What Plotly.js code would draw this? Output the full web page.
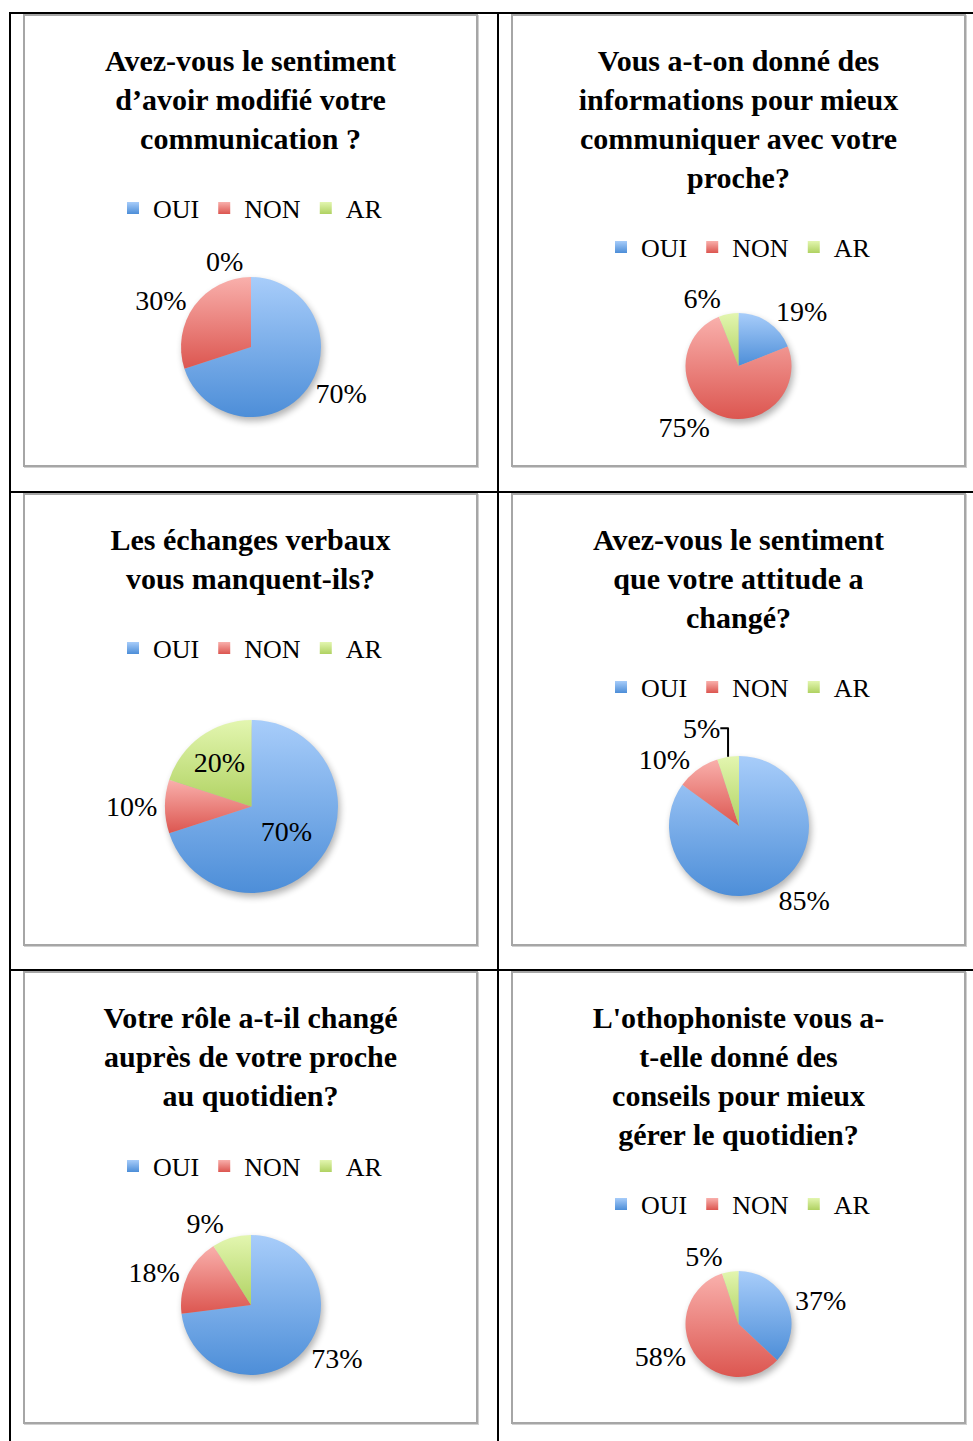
<!DOCTYPE html>
<html>
<head>
<meta charset="utf-8">
<script src="https://cdn.plot.ly/plotly-3.0.1.min.js"></script>
<style>
  html, body { margin:0; padding:0; background:#fff; }
  body { width:973px; height:1441px; position:relative; overflow:hidden; }
  .line { position:absolute; background:#000; }
  .box { position:absolute; width:455px; height:453px; }
  .frame { position:absolute; box-sizing:border-box; width:455px; height:453px;
           border:2px solid #a6a6a6; pointer-events:none; box-shadow:1px 1px 0 #d0d0d0; }
</style>
</head>
<body>
<div class="line" style="left:9px;top:12px;width:964px;height:2px"></div>
<div class="line" style="left:9px;top:12px;width:2px;height:1429px"></div>
<div class="line" style="left:497px;top:12px;width:2px;height:1429px"></div>
<div class="line" style="left:9px;top:491px;width:964px;height:2px"></div>
<div class="line" style="left:9px;top:969px;width:964px;height:2px"></div>
<div id="charts"></div>
<script>
// ---------- data ----------
const categories = ['OUI', 'NON', 'AR'];
const title1 = 'Avez-vous le sentiment<br>d’avoir modifié votre<br>communication ?';
const title2 = 'Vous a-t-on donné des<br>informations pour mieux<br>communiquer avec votre<br>proche?';
const title3 = 'Les échanges verbaux<br>vous manquent-ils?';
const title4 = 'Avez-vous le sentiment<br>que votre attitude a<br>changé?';
const title5 = 'Votre rôle a-t-il changé<br>auprès de votre proche<br>au quotidien?';
const title6 = 'L\'othophoniste vous a-<br>t-elle donné des<br>conseils pour mieux<br>gérer le quotidien?';
const values1 = [70, 30, 0];
const values2 = [19, 75, 6];
const values3 = [70, 10, 20];
const values4 = [85, 10, 5];
const values5 = [73, 18, 9];
const values6 = [37, 58, 5];

// ---------- styles / layout ----------
const midColors = ['rgb(122, 172, 232)', 'rgb(236, 128, 124)', 'rgb(203, 228, 138)'];
const gradStops = [
  ['#a8cdfa', '#4d8ed8'],
  ['#f9b0ac', '#dc5650'],
  ['#e3f6b0', '#b0d262']
];
const W = 455, H = 453;
const charts = [
  {title: title1, values: values1, box: [23, 14],  c: [228, 333], r: 70,   legY: 194, pos: ['outside','outside','outside']},
  {title: title2, values: values2, box: [511, 14], c: [227.5, 352], r: 53, legY: 233, pos: ['outside','outside','outside']},
  {title: title3, values: values3, box: [23, 493], c: [228.5, 313.5], r: 86.5, legY: 155, pos: ['inside','outside','inside']},
  {title: title4, values: values4, box: [511, 493], c: [228, 333], r: 70,  legY: 194, pos: ['outside','outside','outside']},
  {title: title5, values: values5, box: [23, 971], c: [228, 334], r: 70,   legY: 195, pos: ['outside','outside','outside']},
  {title: title6, values: values6, box: [511, 971], c: [227.5, 353], r: 53, legY: 233, pos: ['outside','outside','outside']}
];
const serif = '"Liberation Serif", "Times New Roman", serif';
const container = document.getElementById('charts');

function decorate(gd, k) {
  const NS = 'http://www.w3.org/2000/svg';
  const svg = gd.querySelector('svg.main-svg');
  let defs = svg.querySelector('defs');
  if (!defs) { defs = document.createElementNS(NS, 'defs'); svg.prepend(defs); }
  gradStops.forEach((s, i) => {
    const lg = document.createElementNS(NS, 'linearGradient');
    lg.setAttribute('id', 'g' + k + '_' + i);
    lg.setAttribute('x1', '0'); lg.setAttribute('y1', '0');
    lg.setAttribute('x2', '0'); lg.setAttribute('y2', '1');
    [[0, s[0]], [1, s[1]]].forEach(([o, c]) => {
      const st = document.createElementNS(NS, 'stop');
      st.setAttribute('offset', o); st.setAttribute('stop-color', c);
      lg.appendChild(st);
    });
    defs.appendChild(lg);
  });
  const f = document.createElementNS(NS, 'filter');
  f.setAttribute('id', 'sh' + k);
  f.setAttribute('x', '-30%'); f.setAttribute('y', '-30%');
  f.setAttribute('width', '160%'); f.setAttribute('height', '160%');
  f.innerHTML = '<feGaussianBlur stdDeviation="3.5"/>';
  defs.appendChild(f);
  const idx = c => midColors.findIndex(m => m.replace(/\s/g,'') === c.replace(/\s/g,''));
  const paths = gd.querySelectorAll('.pielayer path.surface');
  let traceG = null;
  const shadow = document.createElementNS(NS, 'g');
  shadow.setAttribute('filter', 'url(#sh' + k + ')');
  shadow.setAttribute('transform', 'translate(2,4)');
  shadow.setAttribute('opacity', '0.3');
  paths.forEach(p => {
    const i = idx(getComputedStyle(p).fill);
    const cl = p.cloneNode(false);
    cl.style.fill = '#000'; cl.style.stroke = 'none';
    shadow.appendChild(cl);
    if (i >= 0) p.style.fill = 'url(#g' + k + '_' + i + ')';
    traceG = p.closest('g.trace');
  });
  if (traceG) traceG.insertBefore(shadow, traceG.firstChild);
  gd.querySelectorAll('.legend path.legendpie').forEach(p => {
    const i = idx(getComputedStyle(p).fill);
    if (i >= 0) p.style.fill = 'url(#g' + k + '_' + i + ')';
  });
}

charts.forEach((ch, k) => {
  const div = document.createElement('div');
  div.className = 'box';
  div.style.left = ch.box[0] + 'px';
  div.style.top = ch.box[1] + 'px';
  const gd = document.createElement('div');
  gd.style.width = W + 'px'; gd.style.height = H + 'px';
  div.appendChild(gd);
  const fr = document.createElement('div');
  fr.className = 'frame'; fr.style.left = '0px'; fr.style.top = '0px';
  div.appendChild(fr);
  container.appendChild(div);

  const [cx, cy] = ch.c, r = ch.r;
  const trace = {
    type: 'pie',
    labels: categories,
    values: ch.values,
    sort: false,
    direction: 'clockwise',
    rotation: 0,
    marker: {colors: midColors, line: {width: 0}},
    texttemplate: '%{value}%',
    textposition: ch.pos,
    insidetextorientation: 'horizontal',
    textfont: {family: serif, size: 28, color: '#000'},
    outsidetextfont: {family: serif, size: 28, color: '#000'},
    insidetextfont: {family: serif, size: 28, color: '#000'},
    hoverinfo: 'none',
    showlegend: true,
    domain: {x: [(cx - r) / W, (cx + r) / W], y: [1 - (cy + r) / H, 1 - (cy - r) / H]}
  };
  const layout = {
    width: W, height: H,
    margin: {l: 0, r: 0, t: 0, b: 0},
    paper_bgcolor: '#fff',
    title: {text: ch.title, x: 0.5, xanchor: 'center', y: 1 - 57 / H, yanchor: 'top', yref: 'container',
            font: {family: serif, size: 30, color: '#000', weight: 'bold'}},
    showlegend: true,
    legend: {orientation: 'h', x: 0.5, xanchor: 'center', y: 1 - ch.legY / H, yanchor: 'middle',
             font: {family: serif, size: 26, color: '#000'}, traceorder: 'normal', itemclick: false}
  };
  Plotly.newPlot(gd, [trace], layout, {staticPlot: true, displayModeBar: false})
    .then(() => decorate(gd, k));
});
</script>
</body>
</html>
